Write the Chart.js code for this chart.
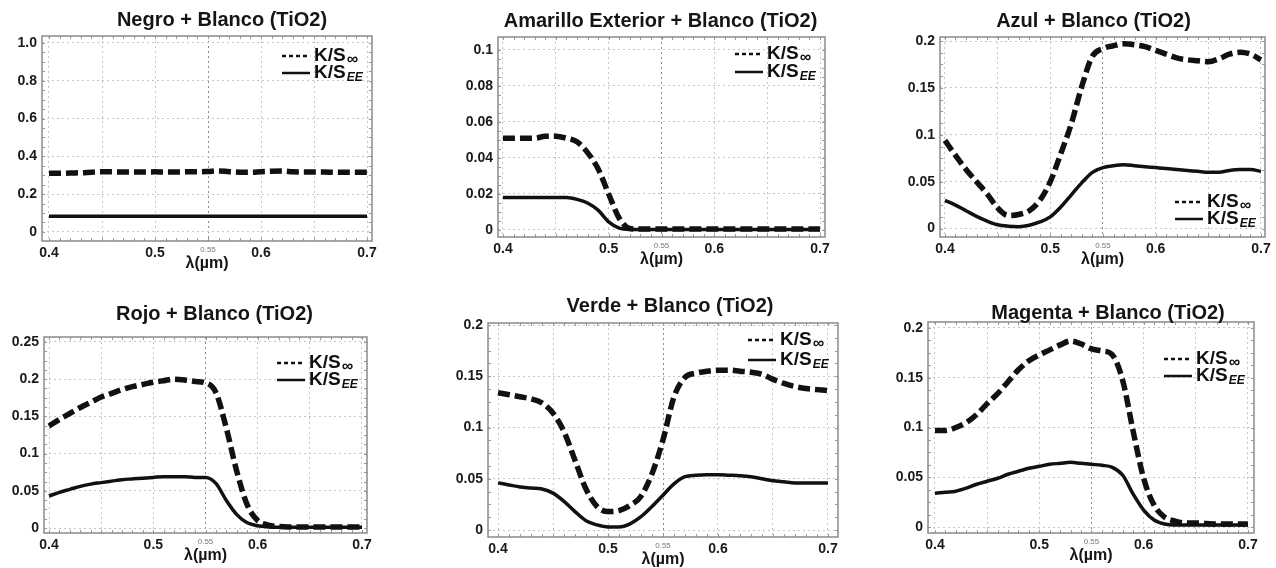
<!DOCTYPE html>
<html>
<head>
<meta charset="utf-8">
<script src="https://cdn.jsdelivr.net/npm/chart.js@4.4.1/dist/chart.umd.min.js"></script>
<style>
  html, body { margin: 0; padding: 0; background: #fff; overflow: hidden; }
  body { width: 1276px; height: 568px; position: relative; }
  canvas { position: absolute; }
</style>
</head>
<body>
<canvas id="p1"></canvas>
<canvas id="p2"></canvas>
<canvas id="p3"></canvas>
<canvas id="p4"></canvas>
<canvas id="p5"></canvas>
<canvas id="p6"></canvas>
<script>
// wavelength in micrometres
const wavelength = [0.40, 0.41, 0.42, 0.43, 0.44, 0.45, 0.46, 0.47, 0.48, 0.49, 0.50,
  0.51, 0.52, 0.53, 0.54, 0.55, 0.56, 0.57, 0.58, 0.59, 0.60,
  0.61, 0.62, 0.63, 0.64, 0.65, 0.66, 0.67, 0.68, 0.69, 0.70];

// K/S infinity (dashed) and K/S EE (solid) per pigment
const negroInf = [0.310, 0.310, 0.312, 0.313, 0.316, 0.318, 0.318, 0.317, 0.317, 0.317, 0.318,
  0.317, 0.317, 0.318, 0.318, 0.320, 0.323, 0.319, 0.316, 0.316, 0.319,
  0.321, 0.322, 0.318, 0.317, 0.317, 0.317, 0.316, 0.316, 0.316, 0.316];
const negroEE = [0.083, 0.083, 0.083, 0.083, 0.083, 0.083, 0.083, 0.083, 0.083, 0.083, 0.083,
  0.083, 0.083, 0.083, 0.083, 0.083, 0.083, 0.083, 0.083, 0.083, 0.083,
  0.083, 0.083, 0.083, 0.083, 0.083, 0.083, 0.083, 0.083, 0.083, 0.083];

const amarilloInf = [0.051, 0.051, 0.051, 0.051, 0.052, 0.052, 0.051, 0.049, 0.043, 0.034, 0.020,
  0.0065, 0.0008, 0.0005, 0.0005, 0.0005, 0.0005, 0.0005, 0.0005, 0.0005, 0.0005,
  0.0005, 0.0005, 0.0005, 0.0005, 0.0005, 0.0005, 0.0005, 0.0005, 0.0005, 0.0005];
const amarilloEE = [0.018, 0.018, 0.018, 0.018, 0.018, 0.018, 0.018, 0.017, 0.015, 0.011, 0.0045,
  0.001, 0.0003, 0.0003, 0.0003, 0.0003, 0.0003, 0.0003, 0.0003, 0.0003, 0.0003,
  0.0003, 0.0003, 0.0003, 0.0003, 0.0003, 0.0003, 0.0003, 0.0003, 0.0003, 0.0003];

const azulInf = [0.094, 0.078, 0.063, 0.050, 0.037, 0.022, 0.014, 0.015, 0.019, 0.030, 0.050,
  0.080, 0.112, 0.152, 0.184, 0.192, 0.195, 0.197, 0.196, 0.194, 0.190,
  0.186, 0.182, 0.180, 0.179, 0.178, 0.181, 0.186, 0.188, 0.186, 0.180];
const azulEE = [0.030, 0.025, 0.019, 0.013, 0.008, 0.004, 0.0025, 0.002, 0.0035, 0.007, 0.0125,
  0.023, 0.036, 0.049, 0.060, 0.065, 0.067, 0.068, 0.067, 0.066, 0.065,
  0.064, 0.063, 0.062, 0.061, 0.060, 0.060, 0.062, 0.063, 0.063, 0.061];

const rojoInf = [0.137, 0.146, 0.154, 0.162, 0.169, 0.176, 0.181, 0.186, 0.190, 0.193, 0.196,
  0.198, 0.200, 0.199, 0.197, 0.195, 0.182, 0.134, 0.076, 0.031, 0.010,
  0.004, 0.002, 0.0015, 0.0015, 0.0015, 0.0015, 0.0015, 0.0015, 0.0015, 0.0015];
const rojoEE = [0.043, 0.048, 0.052, 0.056, 0.059, 0.061, 0.063, 0.065, 0.066, 0.067, 0.068,
  0.069, 0.069, 0.069, 0.068, 0.068, 0.060, 0.037, 0.018, 0.007, 0.003,
  0.0015, 0.001, 0.001, 0.001, 0.001, 0.001, 0.001, 0.001, 0.001, 0.001];

const verdeInf = [0.134, 0.132, 0.130, 0.128, 0.124, 0.114, 0.096, 0.068, 0.040, 0.023, 0.018,
  0.019, 0.024, 0.033, 0.055, 0.088, 0.130, 0.149, 0.153, 0.155, 0.156,
  0.156, 0.155, 0.154, 0.152, 0.147, 0.143, 0.140, 0.138, 0.137, 0.136];
const verdeEE = [0.046, 0.044, 0.042, 0.041, 0.040, 0.036, 0.028, 0.018, 0.009, 0.005, 0.003,
  0.003, 0.006, 0.013, 0.023, 0.034, 0.045, 0.052, 0.0535, 0.054, 0.054,
  0.0535, 0.053, 0.052, 0.050, 0.048, 0.047, 0.046, 0.046, 0.046, 0.046];

const magentaInf = [0.097, 0.097, 0.100, 0.105, 0.113, 0.124, 0.134, 0.146, 0.158, 0.167, 0.173,
  0.178, 0.183, 0.187, 0.184, 0.179, 0.177, 0.173, 0.147, 0.096, 0.049,
  0.022, 0.010, 0.006, 0.004, 0.004, 0.0035, 0.003, 0.003, 0.003, 0.003];
const magentaEE = [0.034, 0.035, 0.036, 0.039, 0.043, 0.046, 0.049, 0.053, 0.056, 0.059, 0.061,
  0.063, 0.064, 0.065, 0.064, 0.063, 0.062, 0.060, 0.052, 0.033, 0.017,
  0.007, 0.003, 0.002, 0.002, 0.002, 0.002, 0.002, 0.002, 0.002, 0.002];

// tick labels
const xTicks = [0.40, 0.45, 0.50, 0.55, 0.60, 0.65, 0.70];
const xTickLabels = ["0.4", "", "0.5", "0.55", "0.6", "", "0.7"];
const yTicksNegro = [0, 0.2, 0.4, 0.6, 0.8, 1.0];
const yLabelsNegro = ["0", "0.2", "0.4", "0.6", "0.8", "1.0"];
const yTicksAmarillo = [0, 0.02, 0.04, 0.06, 0.08, 0.1];
const yLabelsAmarillo = ["0", "0.02", "0.04", "0.06", "0.08", "0.1"];
const yTicksRojo = [0, 0.05, 0.1, 0.15, 0.2, 0.25];
const yLabelsRojo = ["0", "0.05", "0.1", "0.15", "0.2", "0.25"];
const yTicksTwo = [0, 0.05, 0.1, 0.15, 0.2];
const yLabelsTwo = ["0", "0.05", "0.1", "0.15", "0.2"];

const legendMain = ["K/S", "K/S"];
const legendSub = ["\u221E", "EE"];
const axisTitle = "\u03BB(\u00B5m)";

const FONT = "'Liberation Sans', Arial, sans-serif";

// panel layout: frame = plot box in page px, xr / yr = axis range at the frame edges
const panels = [
  { id: "p1", title: "Negro + Blanco (TiO2)", inf: negroInf, ee: negroEE,
    yTicks: yTicksNegro, yLabels: yLabelsNegro, top: 0,
    frame: { l: 42, r: 372, t: 36, b: 241 }, xr: [0.3934, 0.7047], yr: [-0.048, 1.037],
    titleOff: [15, -16], legendRows: [20, 37] },
  { id: "p2", title: "Amarillo Exterior + Blanco (TiO2)", inf: amarilloInf, ee: amarilloEE,
    yTicks: yTicksAmarillo, yLabels: yLabelsAmarillo, top: 0,
    frame: { l: 498, r: 825, t: 37, b: 237 }, xr: [0.3953, 0.7047], yr: [-0.0039, 0.1072],
    titleOff: [-1, -16], legendRows: [17, 35] },
  { id: "p3", title: "Azul + Blanco (TiO2)", inf: azulInf, ee: azulEE,
    yTicks: yTicksTwo, yLabels: yLabelsTwo, top: 0,
    frame: { l: 940, r: 1265, t: 37, b: 237 }, xr: [0.3953, 0.7038], yr: [-0.009, 0.2043],
    titleOff: [-9, -16], legendRows: [-35, -18] },
  { id: "p4", title: "Rojo + Blanco (TiO2)", inf: rojoInf, ee: rojoEE,
    yTicks: yTicksRojo, yLabels: yLabelsRojo, top: 280,
    frame: { l: 44, r: 367, t: 337, b: 533 }, xr: [0.3952, 0.7048], yr: [-0.0067, 0.2567],
    titleOff: [9, -23], legendRows: [26, 43] },
  { id: "p5", title: "Verde + Blanco (TiO2)", inf: verdeInf, ee: verdeEE,
    yTicks: yTicksTwo, yLabels: yLabelsTwo, top: 280,
    frame: { l: 488, r: 838, t: 323, b: 537 }, xr: [0.3909, 0.7091], yr: [-0.0068, 0.202],
    titleOff: [7, -17], legendRows: [17, 37] },
  { id: "p6", title: "Magenta + Blanco (TiO2)", inf: magentaInf, ee: magentaEE,
    yTicks: yTicksTwo, yLabels: yLabelsTwo, top: 280,
    frame: { l: 928, r: 1254, t: 322, b: 533 }, xr: [0.3933, 0.7058], yr: [-0.006, 0.206],
    titleOff: [17, -9], legendRows: [37, 54] },
];

const Y_W = 40, X_H = 34, PAD_R = 10, PAD_B = 4;

// box round the plot + small minor ticks on the edges
const frameBox = {
  id: "frameBox",
  beforeDatasetsDraw(chart) {
    const { ctx, chartArea: a, scales } = chart;
    ctx.save();
    ctx.strokeStyle = "#9a9a9a";
    ctx.lineWidth = 1;
    for (let v = 0.40; v <= 0.7001; v += 0.01) {
      const px = Math.round(scales.x.getPixelForValue(v)) + 0.5;
      ctx.beginPath();
      ctx.moveTo(px, a.bottom); ctx.lineTo(px, a.bottom - 3);
      ctx.moveTo(px, a.top); ctx.lineTo(px, a.top + 3);
      ctx.stroke();
    }
    const yt = scales.y.ticks;
    const step = (yt[1].value - yt[0].value) / 4;
    for (let v = yt[0].value; v <= yt[yt.length - 1].value + 1e-9; v += step) {
      const py = Math.round(scales.y.getPixelForValue(v)) + 0.5;
      ctx.beginPath();
      ctx.moveTo(a.left, py); ctx.lineTo(a.left + 3, py);
      ctx.moveTo(a.right, py); ctx.lineTo(a.right - 3, py);
      ctx.stroke();
    }
    ctx.lineWidth = 1.5;
    ctx.strokeStyle = "#8a8a8a";
    ctx.strokeRect(a.left, a.top, a.right - a.left, a.bottom - a.top);
    ctx.restore();
  },
};

const panelTitle = {
  id: "panelTitle",
  afterDraw(chart, args, opts) {
    const { ctx, chartArea: a } = chart;
    ctx.save();
    ctx.font = "bold 20px " + FONT;
    ctx.fillStyle = "#151515";
    ctx.textAlign = "center";
    ctx.textBaseline = "middle";
    ctx.fillText(opts.text, (a.left + a.right) / 2 + opts.dx, a.top + opts.dy);
    ctx.restore();
  },
};

// K/S legend with subscripts
const ksLegend = {
  id: "ksLegend",
  afterDraw(chart, args, opts) {
    const { ctx, chartArea: a } = chart;
    const x0 = a.right - 90, x1 = a.right - 62, tx = a.right - 58;
    const ys = opts.rows.map((d) => (d < 0 ? a.bottom + d : a.top + d));
    ctx.save();
    ctx.strokeStyle = "#111";
    ctx.lineWidth = 2.5;
    ys.forEach((y, i) => {
      ctx.setLineDash(i === 0 ? [4, 3] : []);
      ctx.beginPath();
      ctx.moveTo(x0, y); ctx.lineTo(x1, y);
      ctx.stroke();
    });
    ctx.setLineDash([]);
    ctx.fillStyle = "#111";
    ctx.textBaseline = "middle";
    ys.forEach((y, i) => {
      ctx.font = "bold 19px " + FONT;
      ctx.fillText(legendMain[i], tx, y);
      const w = ctx.measureText(legendMain[i]).width;
      ctx.font = (i === 0 ? "italic bold 16px " : "italic bold 12px ") + FONT;
      ctx.fillText(legendSub[i], tx + w + 1, y + (i === 0 ? 4 : 5));
    });
    ctx.restore();
  },
};

const isMid = (v) => Math.abs(v - 0.55) < 1e-6;

const makeChart = (p) => {
  const f = p.frame;
  const cv = document.getElementById(p.id);
  const padT = f.t - p.top;
  const left = f.l - Y_W;
  const w = f.r - f.l + Y_W + PAD_R;
  const h = padT + (f.b - f.t) + X_H + PAD_B;
  cv.style.left = left + "px";
  cv.style.top = p.top + "px";
  cv.width = w;
  cv.height = h;

  return new Chart(cv.getContext("2d"), {
    type: "line",
    data: {
      datasets: [
        {
          label: "K/S inf",
          data: wavelength.map((x, i) => ({ x: x, y: p.inf[i] })),
          borderColor: "#111",
          borderWidth: 5.5,
          borderDash: [12, 5],
          cubicInterpolationMode: "monotone",
          pointRadius: 0,
          fill: false,
        },
        {
          label: "K/S EE",
          data: wavelength.map((x, i) => ({ x: x, y: p.ee[i] })),
          borderColor: "#111",
          borderWidth: 3.5,
          cubicInterpolationMode: "monotone",
          pointRadius: 0,
          fill: false,
        },
      ],
    },
    plugins: [frameBox, panelTitle, ksLegend],
    options: {
      responsive: false,
      animation: false,
      events: [],
      layout: { padding: { left: 0, right: PAD_R, top: padT, bottom: PAD_B } },
      plugins: {
        legend: { display: false },
        tooltip: { enabled: false },
        panelTitle: { text: p.title, dx: p.titleOff[0], dy: p.titleOff[1] },
        ksLegend: { rows: p.legendRows },
      },
      scales: {
        x: {
          type: "linear",
          min: p.xr[0],
          max: p.xr[1],
          afterBuildTicks: (s) => { s.ticks = xTicks.map((v) => ({ value: v })); },
          afterFit: (s) => { s.height = X_H; },
          grid: {
            drawTicks: false,
            lineWidth: 1,
            color: (c) => (c.tick && isMid(c.tick.value) ? "#8c8c8c" : "#c6c6c6"),
          },
          border: { display: false, dash: [2, 3] },
          ticks: {
            autoSkip: false,
            maxRotation: 0,
            padding: 4,
            color: (c) => (c.tick && isMid(c.tick.value) ? "#777" : "#1a1a1a"),
            font: (c) => (c.tick && isMid(c.tick.value)
              ? { family: FONT, size: 8 }
              : { family: FONT, size: 14, weight: "bold" }),
            callback: (v, i) => xTickLabels[i],
          },
          title: {
            display: true,
            text: axisTitle,
            color: "#151515",
            font: { family: FONT, size: 16, weight: "bold" },
            padding: { top: 0, bottom: 2 },
          },
        },
        y: {
          min: p.yr[0],
          max: p.yr[1],
          afterBuildTicks: (s) => { s.ticks = p.yTicks.map((v) => ({ value: v })); },
          afterFit: (s) => { s.width = Y_W; },
          grid: { drawTicks: false, lineWidth: 1, color: "#c6c6c6" },
          border: { display: false, dash: [2, 3] },
          ticks: {
            padding: 5,
            color: "#1a1a1a",
            font: { family: FONT, size: 14, weight: "bold" },
            callback: (v, i) => p.yLabels[i],
          },
        },
      },
    },
  });
};

panels.forEach(makeChart);
</script>
</body>
</html>
